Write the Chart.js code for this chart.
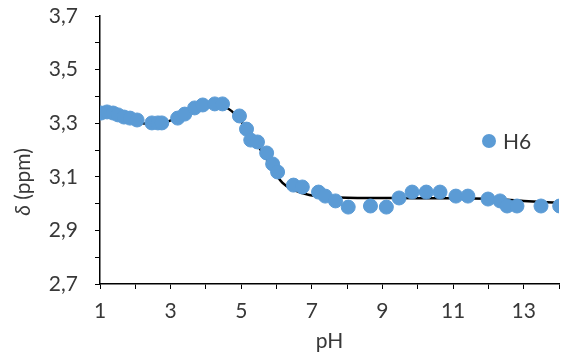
<!DOCTYPE html>
<html>
<head>
<meta charset="utf-8">
<script src="https://cdn.jsdelivr.net/npm/chart.js@4"></script>
<style>
  html, body { margin: 0; padding: 0; background: #fff; }
  #wrap { width: 567px; height: 354px; }
</style>
</head>
<body>
<div id="wrap"><canvas id="shiftChart" width="567" height="354"></canvas></div>
<script>
// measured points (H6)
var phValues = [1.03, 1.20, 1.37, 1.51, 1.68, 1.85, 2.05, 2.47, 2.64, 2.75,
    3.20, 3.40, 3.68, 3.91, 4.25, 4.47, 4.95, 5.15, 5.27, 5.46,
    5.72, 5.89, 6.03, 6.48, 6.73, 7.19, 7.38, 7.67, 8.03, 8.66,
    9.11, 9.47, 9.84, 10.24, 10.63, 11.08, 11.42, 11.99, 12.33, 12.53,
    12.81, 13.49, 14.02];
var shiftValues = [3.338, 3.342, 3.338, 3.331, 3.323, 3.319, 3.312, 3.301, 3.301, 3.301,
    3.319, 3.334, 3.357, 3.368, 3.372, 3.372, 3.327, 3.278, 3.237, 3.230,
    3.189, 3.148, 3.118, 3.069, 3.062, 3.043, 3.028, 3.010, 2.987, 2.991,
    2.987, 3.021, 3.043, 3.043, 3.043, 3.028, 3.028, 3.017, 3.010, 2.991,
    2.991, 2.991, 2.991];

// fitted curve
var fitX = [1, 1.6, 2.2, 2.6, 2.95, 3.5, 4.0, 4.35, 4.73, 5.2, 5.6, 6.17, 6.5, 6.93, 7.5, 8, 9, 10, 11, 12, 13, 14];
var fitY = [3.34, 3.325, 3.30, 3.296, 3.308, 3.34, 3.36, 3.365, 3.345, 3.27, 3.19, 3.077, 3.05, 3.032, 3.025, 3.022, 3.021, 3.02, 3.02, 3.018, 3.01, 3.003];

var xTicks = [1, 3, 5, 7, 9, 11, 13];
var yTicks = [2.7, 2.9, 3.1, 3.3, 3.5, 3.7];

var seriesName = 'H6';
var dotColor = '#5B9BD5';
var textColor = '#383838';

var measured = phValues.map(function (v, i) { return { x: v, y: shiftValues[i] }; });
var fitted = fitX.map(function (v, i) { return { x: v, y: fitY[i] }; });

// y title with italic delta + legend drawn by hand
var extras = {
    id: 'extras',
    afterDraw: function (chart) {
        var ctx = chart.ctx;
        ctx.save();
        // y axis title
        ctx.translate(23, 182);
        ctx.rotate(-Math.PI / 2);
        ctx.fillStyle = textColor;
        ctx.textBaseline = 'middle';
        ctx.font = 'italic 21px Lato';
        var w1 = ctx.measureText('δ').width;
        ctx.font = '21px Lato';
        var w2 = ctx.measureText(' (ppm)').width;
        var start = -(w1 + w2) / 2;
        ctx.font = 'italic 21px Lato';
        ctx.textAlign = 'left';
        ctx.fillText('δ', start, 0);
        ctx.font = '21px Lato';
        ctx.fillText(' (ppm)', start + w1, 0);
        ctx.restore();

        // legend
        ctx.save();
        ctx.fillStyle = dotColor;
        ctx.beginPath();
        ctx.arc(489, 141, 7, 0, Math.PI * 2);
        ctx.fill();
        ctx.fillStyle = textColor;
        ctx.font = '21px Lato';
        ctx.textBaseline = 'middle';
        ctx.textAlign = 'left';
        ctx.fillText(seriesName, 503, 142);
        ctx.restore();
    }
};

const shiftChart = new Chart(document.getElementById('shiftChart'), {
    type: 'scatter',
    data: {
        datasets: [
            {
                label: seriesName,
                data: measured,
                backgroundColor: dotColor,
                borderColor: dotColor,
                pointRadius: 7,
                pointHoverRadius: 7,
                order: 0
            },
            {
                label: 'fit',
                data: fitted,
                showLine: true,
                borderColor: '#000',
                borderWidth: 2.5,
                pointRadius: 0,
                cubicInterpolationMode: 'monotone',
                order: 1
            }
        ]
    },
    options: {
        responsive: false,
        animation: false,
        layout: { padding: { top: 16, right: 7, left: 0, bottom: 0 } },
        plugins: {
            legend: { display: false },
            tooltip: { enabled: false }
        },
        scales: {
            x: {
                type: 'linear',
                min: 1,
                max: 14,
                afterFit: function (s) { s.height = 70; s.paddingLeft = 0; s.paddingRight = 0; },
                grid: { drawOnChartArea: false, drawTicks: true, tickLength: 5, color: '#000' },
                border: { display: true, color: '#000', width: 1.5 },
                ticks: {
                    stepSize: 1,
                    autoSkip: false,
                    maxRotation: 0,
                    padding: 10,
                    color: textColor,
                    font: { family: 'Lato', size: 21 },
                    callback: function (v) { return xTicks.indexOf(v) >= 0 ? String(v) : ''; }
                },
                title: {
                    display: true,
                    text: 'pH',
                    color: textColor,
                    font: { family: 'Lato', size: 21 },
                    padding: { top: -9, bottom: 0 }
                }
            },
            y: {
                type: 'linear',
                min: 2.7,
                max: 3.7,
                afterFit: function (s) { s.width = 100; s.paddingTop = 0; s.paddingBottom = 0; },
                grid: { drawOnChartArea: false, drawTicks: true, tickLength: 5, color: '#000' },
                border: { display: true, color: '#000', width: 1.5 },
                ticks: {
                    stepSize: 0.1,
                    autoSkip: false,
                    padding: 17,
                    color: textColor,
                    font: { family: 'Lato', size: 21 },
                    callback: function (v) {
                        var r = Math.round(v * 10) / 10;
                        var hit = yTicks.some(function (t) { return Math.abs(t - r) < 1e-6; });
                        return hit ? r.toFixed(1).replace('.', ',') : '';
                    }
                }
            }
        }
    },
    plugins: [extras]
});
</script>
</body>
</html>
